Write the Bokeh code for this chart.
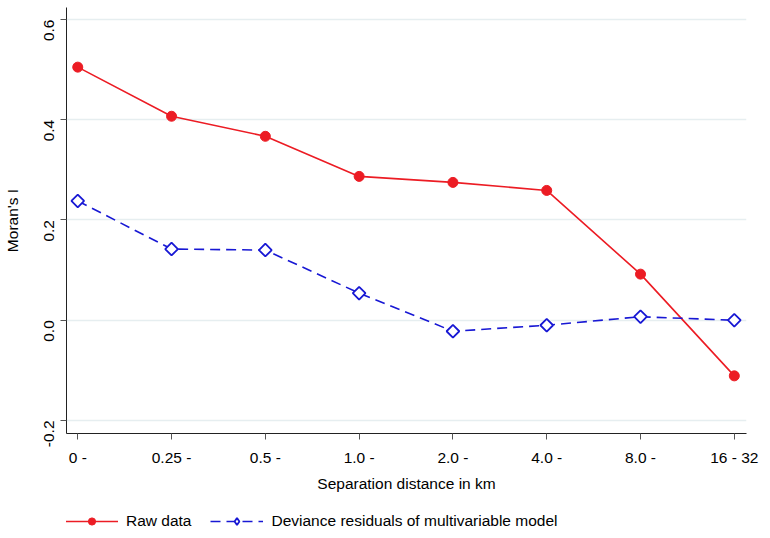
import math
from bokeh.plotting import figure
from bokeh.layouts import column
from bokeh.models import Range1d, Legend, LegendItem, FixedTicker
from bokeh.embed import file_html
from bokeh.resources import INLINE

categories = ["0 -", "0.25 -", "0.5 -", "1.0 -", "2.0 -", "4.0 -", "8.0 -", "16 - 32"]
raw_data = [0.505, 0.407, 0.367, 0.287, 0.275, 0.259, 0.092, -0.111]
deviance_resid = [0.238, 0.142, 0.140, 0.054, -0.022, -0.010, 0.007, 0.000]
y_ticks = [-0.2, 0.0, 0.2, 0.4, 0.6]
y_labels = ["-0.2", "0.0", "0.2", "0.4", "0.6"]
legend_labels = ["Raw data", "Deviance residuals of multivariable model"]

FONT = "Liberation Sans"
RED = "#ec1c24"
BLUE = "#1818d4"
DASH = "10 6"

xs = list(range(len(categories)))

# ---- main chart ----
p = figure(width=770, height=498, output_backend="svg", toolbar_location=None,
           x_range=Range1d(-0.12, 7.13), y_range=Range1d(-0.226, 0.624),
           min_border_left=66, min_border_right=24, min_border_top=7, min_border_bottom=65)
p.outline_line_color = None
p.background_fill_color = "white"
p.border_fill_color = "white"

p.xgrid.grid_line_color = None
p.ygrid.grid_line_color = "#e6eef0"
p.ygrid.grid_line_width = 1.5
p.ygrid.ticker = FixedTicker(ticks=y_ticks)

p.xaxis.ticker = FixedTicker(ticks=xs)
p.xaxis.major_label_overrides = {i: c for i, c in enumerate(categories)}
p.yaxis.ticker = FixedTicker(ticks=y_ticks)
p.yaxis.major_label_overrides = {t: l for t, l in zip(y_ticks, y_labels)}
p.yaxis.major_label_orientation = math.pi / 2

for ax in (p.xaxis, p.yaxis):
    ax.axis_line_color = "#222222"
    ax.axis_line_width = 1
    ax.major_tick_line_color = "#555555"
    ax.major_tick_out = 6
    ax.major_tick_in = 0
    ax.minor_tick_line_color = None
    ax.major_label_text_font = FONT
    ax.major_label_text_font_size = "15.5px"
    ax.major_label_text_color = "black"
    ax.axis_label_text_font = FONT
    ax.axis_label_text_font_size = "15.5px"
    ax.axis_label_text_font_style = "normal"
    ax.axis_label_text_color = "black"

p.xaxis.axis_label = "Separation distance in km"
p.yaxis.axis_label = "Moran's I"
p.xaxis.major_label_standoff = 9
p.xaxis.axis_label_standoff = 6
p.yaxis.major_label_standoff = 11
p.yaxis.axis_label_standoff = 16

p.line(xs, raw_data, line_color=RED, line_width=1.6)
p.scatter(xs, raw_data, marker="circle", size=10, fill_color=RED, line_color=RED)
p.line(xs, deviance_resid, line_color=BLUE, line_width=1.6, line_dash=DASH)
p.scatter(xs, deviance_resid, marker="square", size=9, angle=math.pi / 4,
          fill_color="white", line_color=BLUE, line_width=1.8)

# ---- legend strip below (series drawn outside its view, only the legend shows) ----
lg = figure(width=770, height=40, output_backend="svg", toolbar_location=None,
            x_range=Range1d(100, 101), y_range=Range1d(100, 101),
            min_border=0, x_axis_type=None, y_axis_type=None)
lg.outline_line_color = None
lg.grid.visible = False
lg.border_fill_color = "white"
lg.background_fill_color = "white"

lr_line = lg.line(xs, raw_data, line_color=RED, line_width=1.6)
lr_pts = lg.scatter(xs, raw_data, marker="circle", size=10, fill_color=RED, line_color=RED)
lb_line = lg.line(xs, deviance_resid, line_color=BLUE, line_width=1.6, line_dash=DASH)
lb_pts = lg.scatter(xs, deviance_resid, marker="diamond", size=15,
                    fill_color="white", line_color=BLUE, line_width=1.8)

legend = Legend(items=[
    LegendItem(label=legend_labels[0], renderers=[lr_line, lr_pts]),
    LegendItem(label=legend_labels[1], renderers=[lb_line, lb_pts]),
], orientation="horizontal", location=(-1, 8))
legend.border_line_color = None
legend.background_fill_alpha = 0
legend.label_text_font = FONT
legend.label_text_font_size = "15.5px"
legend.label_text_color = "black"
legend.glyph_width = 53
legend.glyph_height = 18
legend.label_height = 18
legend.spacing = 19
legend.label_standoff = 8
legend.margin = 0
legend.padding = 0
lg.add_layout(legend, "center")

layout = column(p, lg, spacing=0)
open("out.html", "w").write(file_html(layout, INLINE))
